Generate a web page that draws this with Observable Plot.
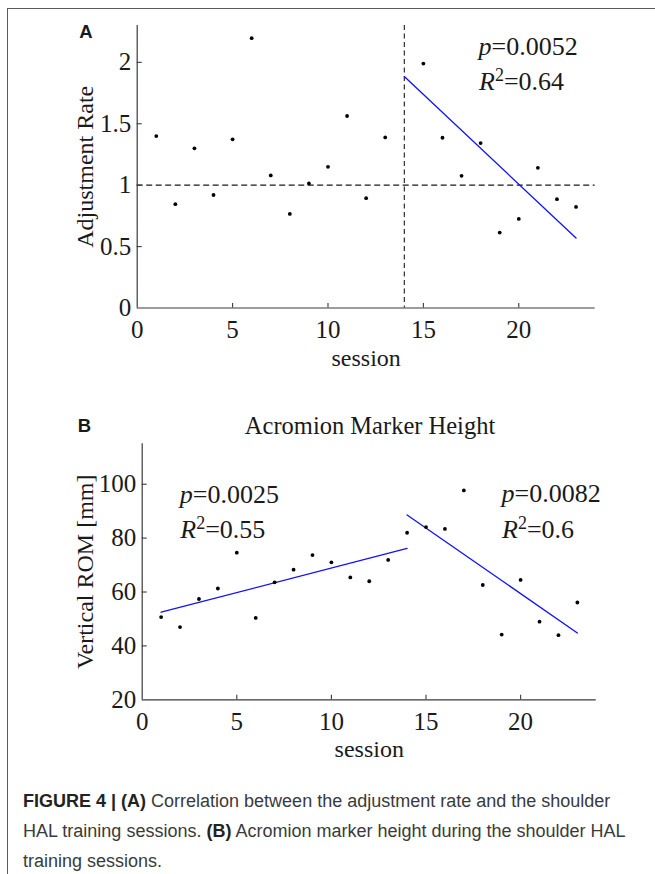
<!DOCTYPE html>
<html><head><meta charset="utf-8">
<script src="https://cdn.jsdelivr.net/npm/d3@7"></script>
<script src="https://cdn.jsdelivr.net/npm/@observablehq/plot@0.6"></script>
<style>
html,body{margin:0;padding:0;background:#fff;}
#wrap{position:relative;width:655px;height:874px;overflow:hidden;background:#fff;}
#frame{position:absolute;left:7px;top:7.5px;right:-4px;bottom:-4px;border-top:1.5px solid #5a5a5a;border-left:1.5px solid #5a5a5a;}
#plotA{position:absolute;left:0;top:0;}
#plotB{position:absolute;left:0;top:400px;}
#caption{position:absolute;left:23px;top:786px;font-family:"Liberation Sans",Arial,sans-serif;font-size:18px;line-height:30px;color:#3a3a3a;white-space:nowrap;}
#caption b{color:#222;}
</style></head><body>
<div id="wrap"><div id="frame"></div><div id="plotA"></div><div id="plotB"></div>
<div id="caption"><b>FIGURE 4 | (A)</b> Correlation between the adjustment rate and the shoulder<br>HAL training sessions. <b>(B)</b> Acromion marker height during the shoulder HAL<br>training sessions.</div></div>
<script>
// ---- data ----
const sessionsA = [1,2,3,4,5,6,7,8,9,10,11,12,13,15,16,17,18,19,20,21,22,23];
const adjustmentRate = [1.40,0.845,1.30,0.92,1.373,2.197,1.079,0.766,1.014,1.149,1.563,0.894,1.389,1.99,1.386,1.076,1.343,0.614,0.725,1.141,0.886,0.823];
const sessionsB = [1,2,3,4,5,6,7,8,9,10,11,12,13,14,15,16,17,18,19,20,21,22,23];
const verticalROM = [50.7,47.0,57.4,61.3,74.6,50.4,63.6,68.3,73.7,71.0,65.4,64.0,71.9,82.0,84.1,83.4,97.7,62.6,44.2,64.5,49.0,44.0,56.1];
const fitASessions = [14,23];
const fitAValues = [1.884,0.570];
const fitBSegments = ["early","early","late","late"];
const fitBSessions = [1,14,14,23];
const fitBValues = [52.5,76.2,88.6,44.8];
const xTicks = [0,5,10,15,20];
const yTicksA = [0,0.5,1,1.5,2];
const yTicksB = [20,40,60,80,100];
const statsA = ["p=0.0052","R²=0.64"];
const statsBLeft = ["p=0.0025","R²=0.55"];
const statsBRight = ["p=0.0082","R²=0.6"];
const titleB = "Acromion Marker Height";
const xLabel = "session";
const yLabelA = "Adjustment Rate";
const yLabelB = "Vertical ROM [mm]";

const dataA = sessionsA.map((s,i)=>({session:s, value:adjustmentRate[i]}));
const dataB = sessionsB.map((s,i)=>({session:s, value:verticalROM[i]}));
const fitA = fitASessions.map((s,i)=>({session:s, value:fitAValues[i]}));
const fitB = fitBSessions.map((s,i)=>({session:s, value:fitBValues[i], seg:fitBSegments[i]}));

const serif = "'Liberation Serif','Times New Roman',serif";
const sans = "'Liberation Sans',Arial,sans-serif";
const ink = "#1a1a1a", axisInk = "#3a3a3a", blue = "#1010ff";

function styleStats(svg){
  d3.select(svg).selectAll("text").each(function(){
    const m = /^([pR])(²?)(=.+)$/.exec(this.textContent);
    if(!m) return;
    const el = d3.select(this);
    el.text(null);
    el.append("tspan").attr("font-style","italic").text(m[1]);
    if(m[2]){
      el.append("tspan").attr("font-size","18px").attr("dy","-8.5").text("2");
      el.append("tspan").attr("dy","8.5").text(m[3]);
    } else {
      el.append("tspan").text(m[3]);
    }
  });
  return svg;
}

const T = {lineAnchor:"middle"};

function panel(cfg){
  const innerH = cfg.height - cfg.mt - cfg.mb;
  const innerW = 655 - cfg.ml - cfg.mr;
  return Plot.plot({
    width:655, height:cfg.height,
    marginTop:cfg.mt, marginBottom:cfg.mb, marginLeft:cfg.ml, marginRight:cfg.mr,
    style:{fontFamily:serif, fontSize:"25px", color:ink, background:"transparent", overflow:"visible"},
    x:{domain:[0,24]}, y:{domain:cfg.ydomain},
    marks:[
      ...cfg.extra,
      Plot.ruleX([0], {stroke:axisInk, strokeWidth:1.2}),
      Plot.ruleY([cfg.ydomain[0]], {stroke:axisInk, strokeWidth:1.2}),
      Plot.ruleX(xTicks.slice(1), {x:d=>d, insetTop:innerH-4.5, stroke:axisInk, strokeWidth:1.1}),
      Plot.ruleY(cfg.yTicks.slice(1), {y:d=>d, insetRight:innerW-5, stroke:axisInk, strokeWidth:1.1}),
      Plot.axisX({ticks:xTicks, tickSize:0, tickPadding:12, tickFormat:d=>String(d), label:null}),
      Plot.axisY({ticks:cfg.yTicks, tickSize:0, tickPadding:6, tickFormat:d=>String(d), label:null}),
      Plot.line(cfg.fit, {x:"session", y:"value", z:"seg", stroke:blue, strokeWidth:1.3}),
      Plot.dot(cfg.data, {x:"session", y:"value", r:1.9, fill:"#000", stroke:null}),
      Plot.text([xLabel], {...T, frameAnchor:"bottom", textAnchor:"middle", dy:50, fontSize:24}),
      Plot.text([cfg.ylabel], {...T, frameAnchor:"left", textAnchor:"middle", rotate:-90, dx:cfg.ylabelDx, fontSize:24}),
      Plot.text([cfg.letter], {...T, frameAnchor:"top-left", textAnchor:"start", dx:cfg.letterDx, dy:cfg.letterDy, fontFamily:sans, fontWeight:"bold", fontSize:18.5}),
      ...cfg.stats
    ]
  });
}

const plotA = panel({
  height:380, mt:25, mb:72.5, ml:136.7, mr:60.4, ydomain:[0,2.3], yTicks:yTicksA,
  data:dataA, fit:fitA.map(d=>({...d, seg:"a"})), ylabel:yLabelA, ylabelDx:-51.4,
  letter:"A", letterDx:-58, letterDy:6.9,
  extra:[
    Plot.ruleY([1], {stroke:ink, strokeDasharray:"6,3.5", strokeWidth:1.1}),
    Plot.ruleX([14], {stroke:ink, strokeDasharray:"5,3.5", strokeWidth:1.1})
  ],
  stats:[
    Plot.text([statsA[0]], {...T, frameAnchor:"top-left", textAnchor:"start", dx:341.3, dy:20.7, fontSize:26}),
    Plot.text([statsA[1]], {...T, frameAnchor:"top-left", textAnchor:"start", dx:341.8, dy:55.7, fontSize:26})
  ]
});

const plotB = panel({
  height:380, mt:43.3, mb:80.7, ml:141.7, mr:59.2, ydomain:[20,115], yTicks:yTicksB,
  data:dataB, fit:fitB, ylabel:yLabelB, ylabelDx:-56.4,
  letter:"B", letterDx:-64.5, letterDy:-17.4,
  extra:[
    Plot.text([titleB], {...T, frameAnchor:"top", textAnchor:"middle", dx:0.8, dy:-17.8, fontSize:24.5})
  ],
  stats:[
    Plot.text([statsBLeft[0]], {...T, frameAnchor:"top-left", textAnchor:"start", dx:37.6, dy:50.4, fontSize:26}),
    Plot.text([statsBLeft[1]], {...T, frameAnchor:"top-left", textAnchor:"start", dx:38.1, dy:85.4, fontSize:26}),
    Plot.text([statsBRight[0]], {...T, frameAnchor:"top-left", textAnchor:"start", dx:359.3, dy:50.1, fontSize:26}),
    Plot.text([statsBRight[1]], {...T, frameAnchor:"top-left", textAnchor:"start", dx:359.8, dy:85.4, fontSize:26})
  ]
});

document.getElementById("plotA").appendChild(styleStats(plotA));
document.getElementById("plotB").appendChild(styleStats(plotB));
</script>
</body></html>
